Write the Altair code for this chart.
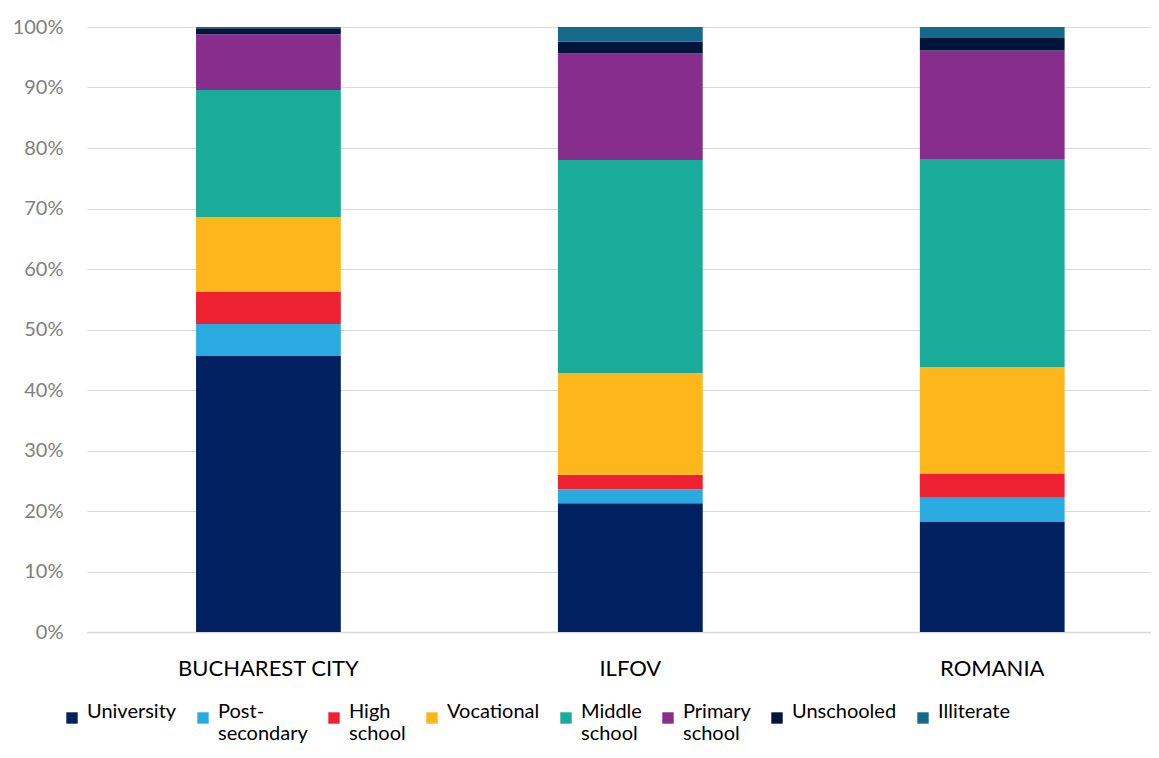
import altair as alt
import pandas as pd

regions = ["BUCHAREST CITY", "ILFOV", "ROMANIA"]
levels = ["University", "Post-secondary", "High school", "Vocational",
          "Middle school", "Primary school", "Unschooled", "Illiterate"]
bucharest = [45.6, 5.3, 5.3, 12.4, 21.0, 9.2, 1.0, 0.2]
ilfov = [21.3, 2.3, 2.4, 16.8, 35.2, 17.6, 2.0, 2.4]
romania = [18.2, 4.0, 4.0, 17.6, 34.4, 17.9, 2.1, 1.8]
colors = ["#002060", "#29ABE2", "#ED2132", "#FDB71A",
          "#1AAC9A", "#872D8C", "#001539", "#156A8C"]

rows = []
for reg, vals in zip(regions, [bucharest, ilfov, romania]):
    for i, (lev, v) in enumerate(zip(levels, vals)):
        rows.append({"region": reg, "level": lev, "order": i, "share": v / 100.0})
df = pd.DataFrame(rows)

FONT = "Lato"

label_expr = ("datum.label == 'Post-secondary' ? ['Post-', 'secondary'] : "
              "(indexof(datum.label, ' ') > 0 ? split(datum.label, ' ') : [datum.label, ''])")

chart = alt.Chart(df).mark_bar().encode(
    x=alt.X("region:N", sort=regions, title=None,
            scale=alt.Scale(paddingInner=0.6, paddingOuter=0.27, align=0.558),
            axis=alt.Axis(labelAngle=0, labelFontSize=22, labelColor="#000000",
                          labelFont=FONT, labelPadding=26, ticks=False, labelLimit=0,
                          domainColor="#d9d9d9", domainWidth=1.5)),
    y=alt.Y("share:Q", stack="zero", title=None,
            scale=alt.Scale(domain=[0, 1], nice=False),
            axis=alt.Axis(values=[i / 10 for i in range(11)], format=".0%",
                          labelFontSize=20, labelColor="#808080", labelFont=FONT,
                          labelPadding=24, ticks=False, domain=False,
                          gridColor="#d9d9d9", gridWidth=1)),
    color=alt.Color("level:N", sort=levels,
                    scale=alt.Scale(domain=levels, range=colors),
                    legend=alt.Legend(
                        title=None, orient="none", direction="horizontal",
                        columns=8, legendX=-25, legendY=681,
                        symbolType="square", symbolSize=130, symbolStrokeWidth=0,
                        labelFontSize=20, labelFont=FONT, labelColor="#000000",
                        labelOffset=5, columnPadding=16, labelLimit=0,
                        labelBaseline="alphabetic",
                        labelExpr=label_expr)),
    order=alt.Order("order:Q", sort="ascending"),
).properties(
    width=1064, height=605,
    autosize=alt.AutoSizeParams(type="none"),
    padding={"left": 79, "top": 19, "right": 0, "bottom": 126},
).configure_view(stroke=None)

chart.save("out.html", embed_options={"renderer": "svg", "actions": False})
